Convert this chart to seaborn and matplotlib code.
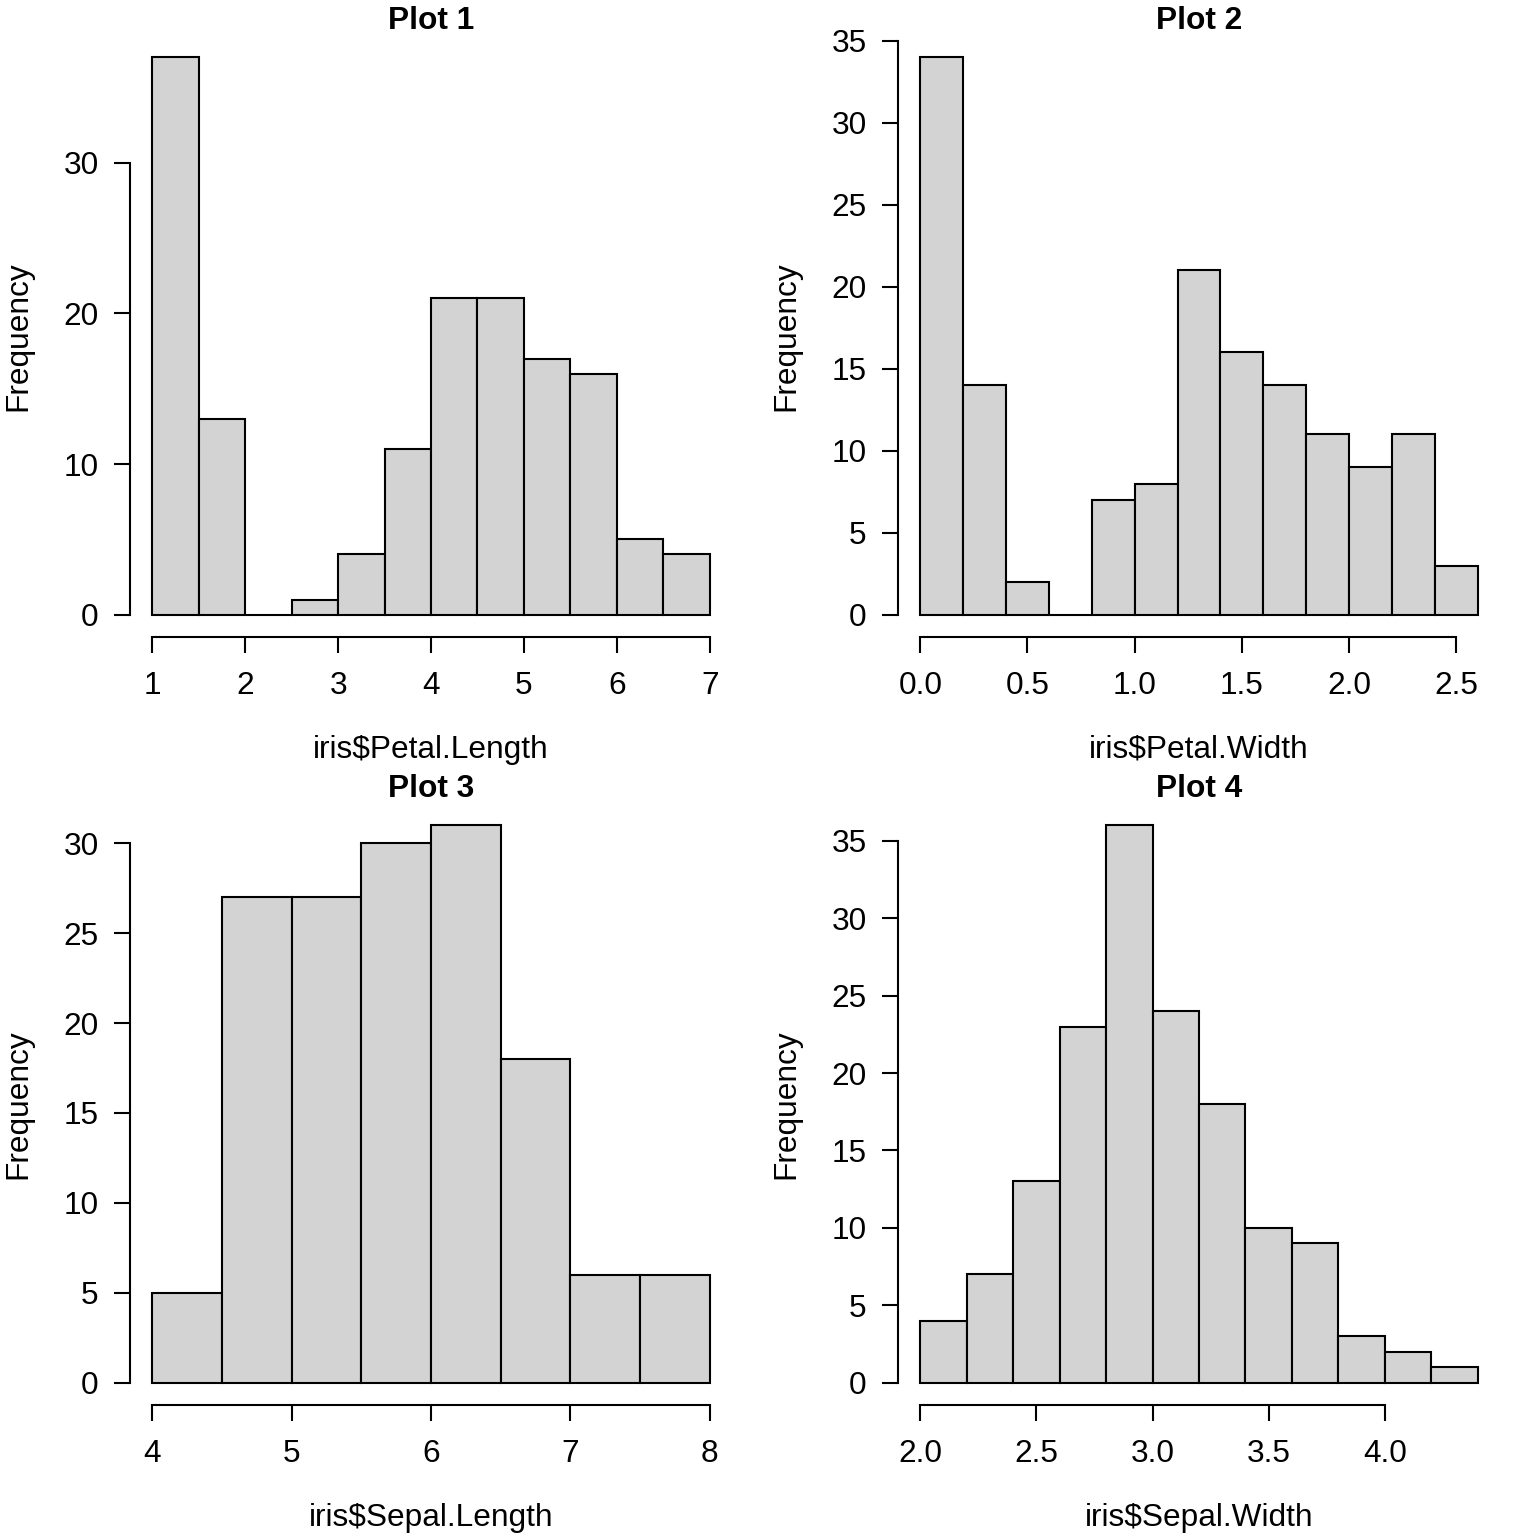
import numpy as np
import pandas as pd
import matplotlib
matplotlib.use("Agg")
import matplotlib.pyplot as plt
import seaborn as sns

# ---- data (bin edges and counts) ----
titles = ["Plot 1", "Plot 2", "Plot 3", "Plot 4"]
xlabels = ["iris$Petal.Length", "iris$Petal.Width", "iris$Sepal.Length", "iris$Sepal.Width"]

petal_length_edges = [1.0, 1.5, 2.0, 2.5, 3.0, 3.5, 4.0, 4.5, 5.0, 5.5, 6.0, 6.5, 7.0]
petal_length_counts = [37, 13, 0, 1, 4, 11, 21, 21, 17, 16, 5, 4]

petal_width_edges = [0.0, 0.2, 0.4, 0.6, 0.8, 1.0, 1.2, 1.4, 1.6, 1.8, 2.0, 2.2, 2.4, 2.6]
petal_width_counts = [34, 14, 2, 0, 7, 8, 21, 16, 14, 11, 9, 11, 3]

sepal_length_edges = [4.0, 4.5, 5.0, 5.5, 6.0, 6.5, 7.0, 7.5, 8.0]
sepal_length_counts = [5, 27, 27, 30, 31, 18, 6, 6]

sepal_width_edges = [2.0, 2.2, 2.4, 2.6, 2.8, 3.0, 3.2, 3.4, 3.6, 3.8, 4.0, 4.2, 4.4]
sepal_width_counts = [4, 7, 13, 23, 36, 24, 18, 10, 9, 3, 2, 1]

xticks_list = [
    [1, 2, 3, 4, 5, 6, 7],
    [0.0, 0.5, 1.0, 1.5, 2.0, 2.5],
    [4, 5, 6, 7, 8],
    [2.0, 2.5, 3.0, 3.5, 4.0],
]
xticklabels_list = [
    ["1", "2", "3", "4", "5", "6", "7"],
    ["0.0", "0.5", "1.0", "1.5", "2.0", "2.5"],
    ["4", "5", "6", "7", "8"],
    ["2.0", "2.5", "3.0", "3.5", "4.0"],
]
yticks_list = [
    [0, 10, 20, 30],
    [0, 5, 10, 15, 20, 25, 30, 35],
    [0, 5, 10, 15, 20, 25, 30],
    [0, 5, 10, 15, 20, 25, 30, 35],
]

hist_edges = [petal_length_edges, petal_width_edges, sepal_length_edges, sepal_width_edges]
hist_counts = [petal_length_counts, petal_width_counts, sepal_length_counts, sepal_width_counts]

# ---- style ----
sns.set_theme(style="white")
plt.rcParams["font.family"] = ["Liberation Sans", "DejaVu Sans"]
FS = 22.8
LW = 1.5
plt.rcParams["axes.linewidth"] = LW

W = 1536.0
fig = plt.figure(figsize=(15.36, 15.36), dpi=100)

# plot regions in pixels (left, top) ; size 602
regions = [(130, 35), (898, 35), (130, 803), (898, 803)]
SZ = 602

for i in range(4):
    left, top = regions[i]
    ax = fig.add_axes([left / W, (W - top - SZ) / W, SZ / W, SZ / W])
    edges = [float(e) for e in hist_edges[i]]
    counts = [float(c) for c in hist_counts[i]]
    centers = [(a + b) / 2 for a, b in zip(edges[:-1], edges[1:])]
    df = pd.DataFrame({"x": centers, "w": counts})
    sns.histplot(data=df, x="x", weights="w", bins=edges, ax=ax,
                 color="#D3D3D3", edgecolor="black", linewidth=LW,
                 alpha=1.0, stat="count")

    xr = edges[-1] - edges[0]
    ax.set_xlim(edges[0] - 0.04 * xr, edges[-1] + 0.04 * xr)
    ymax = max(counts)
    ax.set_ylim(-0.04 * ymax, ymax * 1.04)

    for s in ["top", "right"]:
        ax.spines[s].set_visible(False)
    for s in ["left", "bottom"]:
        ax.spines[s].set_visible(True)
        ax.spines[s].set_color("black")
        ax.spines[s].set_linewidth(LW)
    xt = xticks_list[i]
    yt = yticks_list[i]
    ax.spines["bottom"].set_bounds(xt[0], xt[-1])
    ax.spines["left"].set_bounds(yt[0], yt[-1])
    ax.set_xticks(xt)
    ax.set_xticklabels(xticklabels_list[i])
    ax.set_yticks(yt)
    ax.set_yticklabels([str(v) for v in yt])
    ax.tick_params(axis="both", which="major", direction="out", length=11.5,
                   width=LW, color="black", labelsize=FS, labelcolor="black",
                   bottom=True, left=True)
    ax.tick_params(axis="x", pad=13)
    ax.tick_params(axis="y", pad=11)
    ax.grid(False)

    ax.set_xlabel(xlabels[i], fontsize=FS, color="black", va="center", ha="center")
    ax.xaxis.set_label_coords(0.5, (637 - 750) / SZ)
    ax.set_ylabel("Frequency", fontsize=FS, color="black", va="center", ha="center")
    ax.yaxis.set_label_coords((18 - 130) / SZ, 0.5)
    ax.set_title(titles[i], fontsize=FS, fontweight="bold", color="black",
                 y=(637 - 21) / SZ, va="center", pad=0)

fig.savefig("out.png", dpi=100, facecolor="white")
